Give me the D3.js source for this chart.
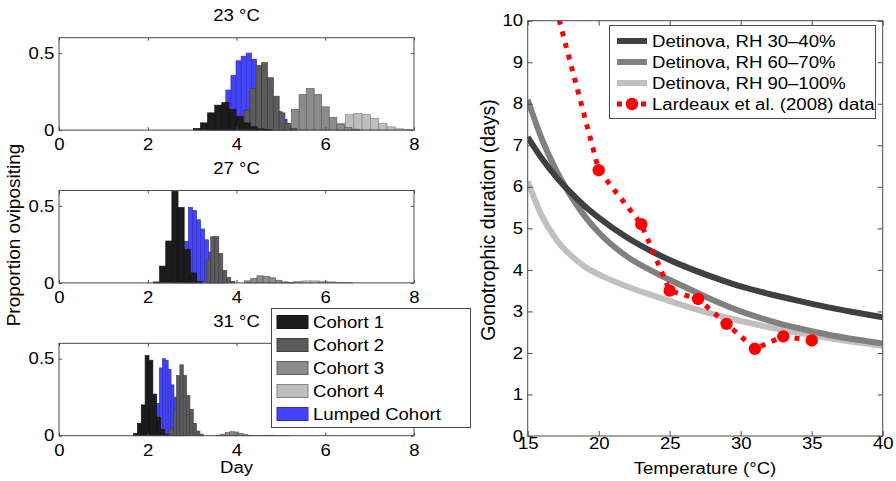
<!DOCTYPE html>
<html>
<head>
<meta charset="utf-8">
<script src="https://cdn.jsdelivr.net/npm/d3@7"></script>
<style>
    body { margin: 0; background: #fff; }
    svg text { font-family: 'Liberation Sans', Arial, Helvetica, sans-serif; fill: #000; }
</style>
</head>
<body>
<svg id="fig" width="896" height="481"></svg>
<script>
// ---------------- histogram panels (left) ----------------
const panelTitles = ['23 °C', '27 °C', '31 °C']
const cohortNames = ['Cohort 1', 'Cohort 2', 'Cohort 3', 'Cohort 4', 'Lumped Cohort']
const cohortColors = ['#1c1c1c', '#5c5c5c', '#8c8c8c', '#bebebe', '#4444ff']

// first bin edge (day) and bin width of each cohort, legend order
const binStart23 = [3.03, 4.175, 5.24, 6.27, 3.415]
const binWidth23 = [0.16, 0.131, 0.17, 0.187, 0.115]
const heights23 = [
    [0.011, 0.047, 0.112, 0.162, 0.179, 0.134, 0.09, 0.047, 0.021, 0.008, 0.004],
    [0.129, 0.27, 0.42, 0.438, 0.34, 0.22, 0.112, 0.043, 0.011],
    [0.134, 0.231, 0.27, 0.231, 0.151, 0.082, 0.037, 0.017, 0.006],
    [0.045, 0.1, 0.108, 0.1, 0.076, 0.043, 0.021, 0.008, 0.003],
    [0.03, 0.08, 0.15, 0.26, 0.355, 0.45, 0.48, 0.5, 0.46, 0.4, 0.32, 0.24, 0.17, 0.12, 0.07, 0.02]
]

const binStart27 = [2.13, 3.33, 4.18, 5.1, 2.56]
const binWidth27 = [0.138, 0.09, 0.14, 0.19, 0.09]
const heights27 = [
    [0.006, 0.109, 0.272, 0.595, 0.49, 0.218, 0.065, 0.01],
    [0.15, 0.3, 0.3, 0.19, 0.08, 0.035, 0.01],
    [0.013, 0.028, 0.046, 0.043, 0.033, 0.017, 0.007, 0.003],
    [0.004, 0.01, 0.013, 0.013, 0.011, 0.007, 0.004, 0.002],
    [0.03, 0.08, 0.15, 0.27, 0.49, 0.47, 0.41, 0.35, 0.28, 0.2, 0.12, 0.06, 0.02]
]

const binStart31 = [1.68, 2.5, 3.55, 4.3, 2.07]
const binWidth31 = [0.087, 0.075, 0.1, 0.15, 0.065]
const heights31 = [
    [0.015, 0.08, 0.2, 0.52, 0.49, 0.27, 0.12, 0.04, 0.01],
    [0.05, 0.17, 0.39, 0.46, 0.39, 0.26, 0.17, 0.08, 0.03, 0.01],
    [0.004, 0.01, 0.02, 0.026, 0.024, 0.015, 0.008, 0.003],
    [0.001, 0.002, 0.003, 0.003, 0.002, 0.001],
    [0.05, 0.12, 0.21, 0.44, 0.5, 0.49, 0.43, 0.33, 0.25, 0.18, 0.1, 0.05, 0.02]
]

const dayTicks = [0, 2, 4, 6, 8]
const propTicks = [0, 0.5]

// ---------------- gonotrophic duration (right) ----------------
const temps = [15, 16, 17, 18, 19, 20, 22, 24, 26, 28, 30, 32, 34, 36, 38, 40]
const rh3040 = [7.2, 6.68, 6.24, 5.87, 5.54, 5.26, 4.78, 4.4, 4.09, 3.83, 3.6, 3.42, 3.26, 3.11, 2.98, 2.86]
const rh6070 = [8.1, 7.15, 6.4, 5.8, 5.3, 4.9, 4.32, 3.93, 3.6, 3.28, 3.0, 2.78, 2.6, 2.45, 2.33, 2.23]
const rh90100 = [6.13, 5.3, 4.74, 4.36, 4.08, 3.89, 3.6, 3.36, 3.14, 2.94, 2.77, 2.62, 2.49, 2.37, 2.26, 2.17]
const lardeauxTemp = [17, 20, 23, 25, 27, 29, 31, 33, 35]
const lardeauxDays = [10.3, 6.4, 5.1, 3.5, 3.3, 2.7, 2.1, 2.4, 2.3]
const detinovaNames = ['Detinova, RH 30\u201340%', 'Detinova, RH 60\u201370%', 'Detinova, RH 90\u2013100%']
const detinovaColors = ['#404040', '#808080', '#c0c0c0']
const tempTicks = [15, 20, 25, 30, 35, 40]
const durationTicks = d3.range(0, 11)

// ---------------- layout ----------------
const FONT = 16
const STRETCH = 1.16 // glyphs in the figure are a bit wider than tall
const AXIS = '#4a4a4a'

const svg = d3.select('#fig')

function addText(parent, x, y, txt, anchor = 'middle', size = FONT, rotate = 0) {
    return parent.append('text')
        .attr('transform', rotate ? `translate(${x},${y}) rotate(${rotate})` : `translate(${x},${y}) scale(${STRETCH},1)`)
        .attr('text-anchor', anchor)
        .attr('font-size', size)
        .text(txt)
}

// box with inward ticks on all four sides
function drawAxes(g, x, y, xTicks, yTicks, tick, xPad, yPad, yFormat) {
    const [left, right] = x.range()
    const [bottom, top] = y.range()

    const style = sel => {
        sel.select('.domain').remove()
        sel.attr('font-size', FONT).attr('font-family', null).attr('color', AXIS)
        sel.selectAll('text').attr('fill', '#000').attr('transform', `scale(${STRETCH},1)`)
    }

    g.append('g').attr('transform', `translate(0,${bottom})`)
        .call(d3.axisBottom(x).tickValues(xTicks).tickSizeInner(-tick).tickSizeOuter(0).tickPadding(xPad))
        .call(style)
    g.append('g').attr('transform', `translate(0,${top})`)
        .call(d3.axisTop(x).tickValues(xTicks).tickSizeInner(-tick).tickSizeOuter(0).tickFormat(''))
        .call(style)
    g.append('g').attr('transform', `translate(${left},0)`)
        .call(d3.axisLeft(y).tickValues(yTicks).tickSizeInner(-tick).tickSizeOuter(0).tickPadding(yPad).tickFormat(yFormat))
        .call(style)
    g.append('g').attr('transform', `translate(${right},0)`)
        .call(d3.axisRight(y).tickValues(yTicks).tickSizeInner(-tick).tickSizeOuter(0).tickFormat(''))
        .call(style)

    g.append('rect')
        .attr('x', left).attr('y', top)
        .attr('width', right - left).attr('height', bottom - top)
        .attr('fill', 'none').attr('stroke', AXIS)
}

class HistogramPanel {
    constructor(k, top) {
        this.k = k
        this.x = d3.scaleLinear().domain([0, 8]).range([59, 414])
        this.y = d3.scaleLinear().domain([0, 0.6]).range([top + 92.4, top])
        this.group = svg.append('g').attr('class', 'panel')
        this.drawOrder = [4, 3, 2, 1, 0] // lumped at the back, cohort 1 in front
    }

    bars() {
        const starts = [binStart23, binStart27, binStart31][this.k]
        const widths = [binWidth23, binWidth27, binWidth31][this.k]
        const heights = [heights23, heights27, heights31][this.k]

        return this.drawOrder.flatMap(c => heights[c].map((v, i) => ({
            cohort: c,
            x0: starts[c] + i * widths[c],
            x1: starts[c] + (i + 1) * widths[c],
            v: v
        })))
    }

    draw() {
        const x = this.x, y = this.y

        this.group.selectAll('rect.bar')
            .data(this.bars())
            .join('rect')
            .classed('bar', true)
            .attr('x', d => x(d.x0))
            .attr('width', d => x(d.x1) - x(d.x0))
            .attr('y', d => y(d.v))
            .attr('height', d => y(0) - y(d.v))
            .attr('fill', d => cohortColors[d.cohort])
            .attr('stroke', d => d3.rgb(cohortColors[d.cohort]).darker(1))
            .attr('stroke-width', 0.7)

        drawAxes(this.group, x, y, dayTicks, propTicks, 3, 9, 4, d => d === 0 ? '0' : d3.format('.1f')(d))

        addText(this.group, (x.range()[0] + x.range()[1]) / 2, y.range()[1] - 16.5, panelTitles[this.k])
    }
}

class DurationChart {
    constructor() {
        this.x = d3.scaleLinear().domain([15, 40]).range([527.7, 882.7])
        this.y = d3.scaleLinear().domain([0, 10]).range([436, 20.7])
        this.group = svg.append('g').attr('class', 'duration')

        svg.append('clipPath').attr('id', 'plot-clip')
            .append('rect')
            .attr('x', 527.7).attr('y', 20.7)
            .attr('width', 355).attr('height', 415.3)
    }

    draw() {
        const x = this.x, y = this.y
        const plot = this.group.append('g').attr('clip-path', 'url(#plot-clip)')

        const curve = d3.line()
            .x(d => x(d[0]))
            .y(d => y(d[1]))
            .curve(d3.curveMonotoneX)

        const series = [rh90100, rh6070, rh3040]
        const colors = [detinovaColors[2], detinovaColors[1], detinovaColors[0]]

        plot.selectAll('path.detinova')
            .data(series)
            .join('path')
            .classed('detinova', true)
            .attr('d', s => curve(temps.map((t, i) => [t, s[i]])))
            .attr('fill', 'none')
            .attr('stroke', (s, i) => colors[i])
            .attr('stroke-width', 6)

        const pts = lardeauxTemp.map((t, i) => [t, lardeauxDays[i]])

        plot.append('path')
            .attr('d', d3.line().x(d => x(d[0])).y(d => y(d[1]))(pts))
            .attr('fill', 'none')
            .attr('stroke', '#ff0000')
            .attr('stroke-width', 5)
            .attr('stroke-dasharray', '5,7')

        plot.selectAll('circle')
            .data(pts)
            .join('circle')
            .attr('cx', d => x(d[0]))
            .attr('cy', d => y(d[1]))
            .attr('r', 6.2)
            .attr('fill', '#ff0000')

        drawAxes(this.group, x, y, tempTicks, durationTicks, 5, 2, 4, d3.format('d'))

        addText(this.group, 705, 474, 'Temperature (°C)', 'middle', FONT)
        addText(this.group, 495, 220, 'Gonotrophic duration (days)', 'middle', 19.5, -90)

        this.legend()
    }

    legend() {
        const g = this.group.append('g').attr('class', 'legend')
        g.append('rect')
            .attr('x', 609.5).attr('y', 25.5)
            .attr('width', 266).attr('height', 93)
            .attr('fill', '#fff').attr('stroke', AXIS)

        const rows = [41, 62, 83, 104]
        detinovaNames.forEach((name, i) => {
            g.append('line')
                .attr('x1', 617).attr('x2', 647)
                .attr('y1', rows[i]).attr('y2', rows[i])
                .attr('stroke', detinovaColors[i]).attr('stroke-width', 6)
            addText(g, 652, rows[i] + 6, name, 'start')
        })

        g.append('line')
            .attr('x1', 617).attr('x2', 647)
            .attr('y1', rows[3]).attr('y2', rows[3])
            .attr('stroke', '#ff0000').attr('stroke-width', 5)
            .attr('stroke-dasharray', '5,7')
        g.append('circle').attr('cx', 632).attr('cy', rows[3]).attr('r', 6.2).attr('fill', '#ff0000')
        addText(g, 652, rows[3] + 6, 'Lardeaux et al. (2008) data', 'start')
    }
}

const panelTops = [37.7, 190.5, 343.3]
panelTops.forEach((top, k) => new HistogramPanel(k, top).draw())

addText(svg, 236.5, 473, 'Day')
addText(svg, 20, 235, 'Proportion ovipositing', 'middle', 19, -90)

// cohort legend, drawn over the lowest panel
const cohortLegend = svg.append('g').attr('class', 'cohort-legend')
cohortLegend.append('rect')
    .attr('x', 271.5).attr('y', 308.5)
    .attr('width', 199).attr('height', 119)
    .attr('fill', '#fff').attr('stroke', AXIS)

cohortLegend.selectAll('rect.patch')
    .data(cohortNames)
    .join('rect')
    .classed('patch', true)
    .attr('x', 277).attr('width', 31)
    .attr('y', (d, i) => 315.5 + i * 23).attr('height', 13)
    .attr('fill', (d, i) => cohortColors[i])
    .attr('stroke', (d, i) => d3.rgb(cohortColors[i]).darker(1))

cohortNames.forEach((name, i) => addText(cohortLegend, 313, 328 + i * 23, name, 'start'))

new DurationChart().draw()
</script>
</body>
</html>
